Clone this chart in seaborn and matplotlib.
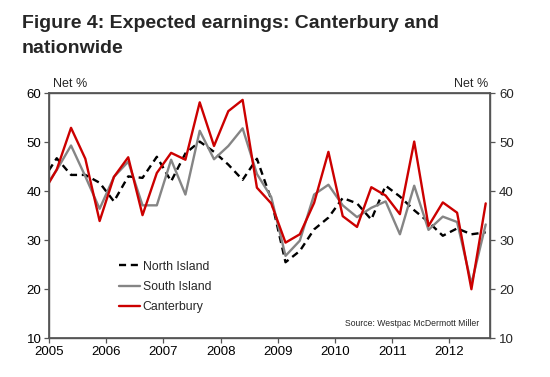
import numpy as np
import pandas as pd
import matplotlib
matplotlib.use("Agg")
import matplotlib.pyplot as plt
import seaborn as sns

# Quarterly survey points (decimal year); first point lies just before the axis start and is clipped
years = [2004.885 + 0.25 * i for i in range(32)]
north_island = [42.2, 46.7, 43.3, 43.3, 41.7, 37.9, 43.0, 42.7, 47.0, 42.0, 47.7,
                50.1, 48.0, 45.4, 42.3, 46.6, 38.3, 25.5, 27.8, 32.2, 34.6, 38.6,
                37.5, 34.2, 41.1, 38.9, 36.1, 33.7, 30.9, 32.4, 31.2, 31.6]
south_island = [40.0, 44.3, 49.3, 43.0, 36.4, 42.9, 46.0, 37.1, 37.1, 46.4, 39.3,
                52.3, 46.5, 49.2, 52.8, 43.5, 38.8, 26.8, 29.9, 39.3, 41.3, 37.1,
                34.7, 36.6, 37.9, 31.2, 41.1, 32.1, 34.8, 33.7, 21.1, 33.2]
canterbury = [39.4, 44.4, 52.9, 46.6, 33.9, 42.9, 46.9, 35.1, 43.7, 47.8, 46.4,
              58.1, 49.2, 56.3, 58.6, 40.7, 37.5, 29.5, 31.2, 37.6, 48.0, 34.9,
              32.7, 40.8, 39.1, 35.3, 50.1, 32.9, 37.7, 35.6, 20.0, 37.5]
year_ticks = [2005, 2006, 2007, 2008, 2009, 2010, 2011, 2012]
y_ticks = [10, 20, 30, 40, 50, 60]

df = pd.DataFrame({"year": years, "North Island": north_island,
                   "South Island": south_island, "Canterbury": canterbury})

sns.set_theme(style="white")
plt.rcParams["font.family"] = ["Liberation Sans", "DejaVu Sans"]

fig = plt.figure(figsize=(5.5, 3.77), dpi=100)
ax = fig.add_axes([0.0891, 0.1027, 0.8018, 0.6506])

sns.lineplot(data=df, x="year", y="North Island", ax=ax, color="black",
             linewidth=1.7, linestyle=(0, (3, 2)), label="North Island")
sns.lineplot(data=df, x="year", y="South Island", ax=ax, color="#858585",
             linewidth=1.7, label="South Island")
sns.lineplot(data=df, x="year", y="Canterbury", ax=ax, color="#cc0000",
             linewidth=1.7, label="Canterbury")

ax.set_xlim(2005, 2012.71)
ax.set_ylim(10, 60)
ax.set_xticks(year_ticks)
ax.set_xticklabels([str(y) for y in year_ticks], fontsize=9.5)
ax.set_yticks(y_ticks)
ax.set_yticklabels([str(y) for y in y_ticks], fontsize=9.5)
ax.set_xlabel("")
ax.set_ylabel("")

for s in ax.spines.values():
    s.set_color("#555555")
    s.set_linewidth(1.0)
ax.tick_params(axis="both", which="major", direction="out", length=3.5,
               width=0.9, color="#555555", labelcolor="black", pad=2)
ax.tick_params(axis="y", left=True)
ax.tick_params(axis="x", bottom=True)

ax2 = ax.twinx()
ax2.set_ylim(10, 60)
ax2.set_yticks(y_ticks)
ax2.set_yticklabels([str(y) for y in y_ticks], fontsize=9.5)
ax2.tick_params(axis="y", direction="out", length=3.5, width=0.9,
                color="#555555", right=True, pad=3)
for s in ax2.spines.values():
    s.set_color("#555555")
ax2.grid(False)
ax.grid(False)

leg = ax.legend(loc="upper left", bbox_to_anchor=(0.158, 0.316), frameon=False,
                fontsize=8.8, handlelength=1.75, handletextpad=0.2,
                labelspacing=0.68, borderaxespad=0, borderpad=0)

ax.text(0.008, 1.012, "Net %", transform=ax.transAxes, ha="left", va="bottom", fontsize=9)
ax.text(0.995, 1.012, "Net %", transform=ax.transAxes, ha="right", va="bottom", fontsize=9)
ax.text(0.975, 0.04, "Source: Westpac McDermott Miller", transform=ax.transAxes,
        ha="right", va="bottom", fontsize=6.2)

fig.text(0.04, 0.96, "Figure 4: Expected earnings: Canterbury and\nnationwide",
         ha="left", va="top", fontsize=14.0, fontweight="bold", linespacing=1.6)

fig.savefig("out.png", dpi=100, facecolor="white")
